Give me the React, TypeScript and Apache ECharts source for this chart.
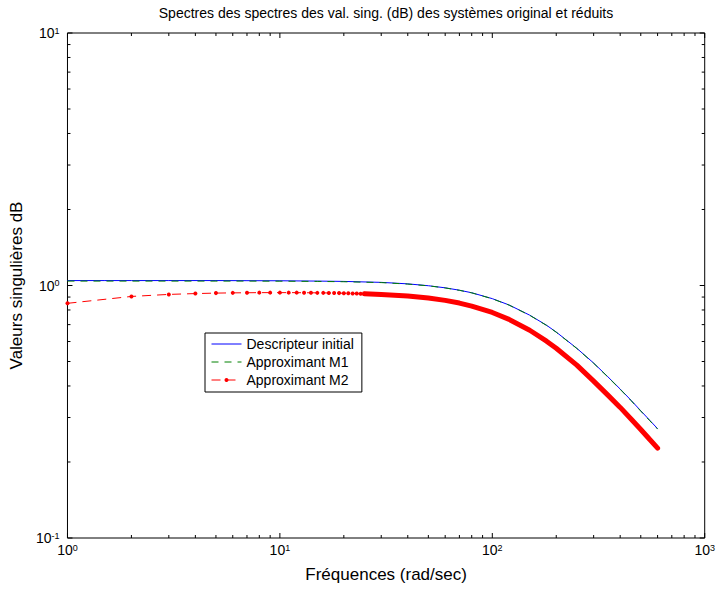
import React, { useEffect, useRef } from "react";
import * as echarts from "echarts";

// ---- Data ----
const TITLE = "Spectres des spectres des val. sing. (dB) des systèmes original et réduits";
const X_NAME = "Fréquences (rad/sec)";
const Y_NAME = "Valeurs singulières dB";
const SERIES_NAMES = ["Descripteur initial", "Approximant M1", "Approximant M2"];

const X_MIN = 1;
const X_MAX = 1000;
const Y_MIN = 0.1;
const Y_MAX = 10;

// Descripteur initial (blue, solid)
const blueFreq = [1, 1.5, 2, 3, 5, 7, 10, 15, 20, 30, 40, 50, 60, 70, 80, 100, 120, 150, 180, 200, 250, 300, 350, 400, 450, 500, 550, 600];
const blueVal = [1.046, 1.046, 1.046, 1.046, 1.046, 1.045, 1.044, 1.041, 1.038, 1.029, 1.015, 0.998, 0.979, 0.958, 0.936, 0.887, 0.837, 0.763, 0.696, 0.654, 0.564, 0.493, 0.435, 0.389, 0.351, 0.319, 0.293, 0.271];

// Approximant M1 (green, dashed)
const greenFreq = [1, 1.5, 2, 3, 5, 7, 10, 15, 20, 30, 40, 50, 60, 70, 80, 100, 120, 150, 180, 200, 250, 300, 350, 400, 450, 500, 550, 600];
const greenVal = [1.041, 1.041, 1.041, 1.041, 1.041, 1.041, 1.040, 1.038, 1.035, 1.027, 1.013, 0.997, 0.978, 0.957, 0.935, 0.886, 0.836, 0.762, 0.695, 0.653, 0.563, 0.492, 0.434, 0.388, 0.350, 0.318, 0.292, 0.270];

// Approximant M2 (red, dashed with dots) – low-frequency part, one dot per rad/sec
const redFreqLow = [1, 2, 3, 4, 5, 6, 7, 8, 9, 10, 11, 12, 13, 14, 15, 16, 17, 18, 19, 20, 21, 22, 23, 24, 25];
const redValLow = [0.850, 0.905, 0.922, 0.929, 0.933, 0.935, 0.936, 0.937, 0.937, 0.937, 0.937, 0.937, 0.936, 0.936, 0.935, 0.935, 0.934, 0.934, 0.933, 0.932, 0.931, 0.930, 0.929, 0.928, 0.927];
// Approximant M2 – high-frequency part where the dots merge into a thick line
const redFreqHigh = [25, 30, 40, 50, 60, 70, 80, 100, 120, 150, 180, 200, 250, 300, 350, 400, 450, 500, 550, 600];
const redValHigh = [0.927, 0.922, 0.908, 0.892, 0.873, 0.852, 0.829, 0.782, 0.734, 0.665, 0.602, 0.564, 0.484, 0.418, 0.368, 0.329, 0.296, 0.269, 0.246, 0.227];

// Axis tick scheme
const X_DECADES = [1, 10, 100, 1000];
const Y_DECADES = [0.1, 1, 10];
const MINOR_MULT = [2, 3, 4, 5, 6, 7, 8, 9];

const FONT = "Liberation Sans, Arial, Helvetica, sans-serif";

function zip(xs: number[], ys: number[]) {
  return xs.map((x, i) => [x, ys[i]]);
}

function buildTicks(decades: number[], maxV: number) {
  const out: number[][] = [];
  decades.forEach((d) => {
    out.push([d, 1]);
    if (d * 10 <= maxV) MINOR_MULT.forEach((m) => out.push([d * m, 0]));
  });
  return out;
}

const App: React.FC = () => {
  const ref = useRef<HTMLDivElement>(null);

  useEffect(() => {
    if (!ref.current) return;
    const chart = echarts.init(ref.current, undefined, { renderer: "svg" });

    const xTicks = buildTicks(X_DECADES, X_MAX).map(([v, major]) => [v, Y_MIN, major]);
    const yTicks = buildTicks(Y_DECADES, Y_MAX).map(([v, major]) => [X_MIN, v, major]);

    const labelFmt = (v: number) => `{b|10}{s|${Math.round(Math.log10(v))}}`;
    const rich = {
      b: { fontSize: 14, lineHeight: 14, fontFamily: FONT, color: "#000" },
      s: { fontSize: 9, lineHeight: 10, verticalAlign: "top", fontFamily: FONT, color: "#000" },
    };

    const MAJOR_LEN = 5;
    const MINOR_LEN = 3;

    const option: any = {
      animation: false,
      backgroundColor: "#fff",
      title: {
        text: TITLE,
        left: 386,
        textAlign: "center",
        top: 6,
        padding: 0,
        textStyle: { fontSize: 14, fontWeight: "normal", color: "#000", fontFamily: FONT },
      },
      grid: {
        left: 64,
        right: 11,
        top: 33,
        bottom: 51,
        show: true,
        borderColor: "#000",
        borderWidth: 1,
        backgroundColor: "transparent",
      },
      legend: {
        data: [
          { name: SERIES_NAMES[0], itemStyle: { opacity: 0 } },
          { name: SERIES_NAMES[1], itemStyle: { opacity: 0 } },
          { name: SERIES_NAMES[2] },
        ],
        orient: "vertical",
        left: 205,
        top: 333,
        backgroundColor: "#fff",
        borderColor: "#000",
        borderWidth: 1,
        borderRadius: 0,
        padding: [4, 8, 5, 6],
        itemGap: 4,
        itemWidth: 30,
        itemHeight: 5,
        lineStyle: { width: 1 },
        textStyle: { fontSize: 14, lineHeight: 14, color: "#000", fontFamily: FONT },
      },
      xAxis: {
        type: "log",
        logBase: 10,
        min: X_MIN,
        max: X_MAX,
        splitNumber: 3,
        name: X_NAME,
        nameLocation: "middle",
        nameGap: 28,
        nameTextStyle: { fontSize: 17, color: "#000", fontFamily: FONT },
        axisLine: { show: false },
        axisTick: { show: false },
        splitLine: { show: false },
        axisLabel: {
          formatter: labelFmt,
          rich,
          margin: 5,
          showMinLabel: true,
          showMaxLabel: true,
        },
      },
      yAxis: {
        type: "log",
        logBase: 10,
        min: Y_MIN,
        max: Y_MAX,
        splitNumber: 2,
        name: Y_NAME,
        nameLocation: "middle",
        nameGap: 34,
        nameRotate: 90,
        nameTextStyle: { fontSize: 17, color: "#000", fontFamily: FONT },
        axisLine: { show: false },
        axisTick: { show: false },
        splitLine: { show: false },
        axisLabel: {
          formatter: labelFmt,
          rich,
          margin: 8,
          showMinLabel: true,
          showMaxLabel: true,
        },
      },
      series: [
        {
          name: SERIES_NAMES[0],
          type: "line",
          data: zip(blueFreq, blueVal),
          symbol: "none",
          lineStyle: { color: "#0000ff", width: 1 },
          itemStyle: { color: "#0000ff" },
          z: 3,
        },
        {
          name: SERIES_NAMES[1],
          type: "line",
          data: zip(greenFreq, greenVal),
          symbol: "none",
          lineStyle: { color: "#008000", width: 1, type: [7, 6] },
          itemStyle: { color: "#008000" },
          z: 4,
        },
        {
          name: SERIES_NAMES[2],
          type: "line",
          data: zip(redFreqLow, redValLow),
          symbol: "circle",
          symbolSize: 4,
          showSymbol: true,
          showAllSymbol: true,
          lineStyle: { color: "#ff0000", width: 1, type: [9, 6] },
          itemStyle: { color: "#ff0000" },
          z: 5,
        },
        {
          name: SERIES_NAMES[2],
          type: "line",
          data: zip(redFreqHigh, redValHigh),
          symbol: "none",
          lineStyle: { color: "#ff0000", width: 5, cap: "round" },
          itemStyle: { color: "#ff0000" },
          z: 5,
        },
        {
          type: "custom",
          name: "xticks",
          silent: true,
          clip: false,
          data: xTicks,
          z: 10,
          renderItem: (params: any, api: any) => {
            const v = api.value(0);
            const len = api.value(2) ? MAJOR_LEN : MINOR_LEN;
            const b = api.coord([v, Y_MIN]);
            const t = api.coord([v, Y_MAX]);
            const style = { stroke: "#000", lineWidth: 1 };
            return {
              type: "group",
              children: [
                { type: "line", shape: { x1: b[0], y1: b[1], x2: b[0], y2: b[1] - len }, style },
                { type: "line", shape: { x1: t[0], y1: t[1], x2: t[0], y2: t[1] + len }, style },
              ],
            };
          },
        },
        {
          type: "custom",
          name: "yticks",
          silent: true,
          clip: false,
          data: yTicks,
          z: 10,
          renderItem: (params: any, api: any) => {
            const v = api.value(1);
            const len = api.value(2) ? MAJOR_LEN : MINOR_LEN;
            const l = api.coord([X_MIN, v]);
            const r = api.coord([X_MAX, v]);
            const style = { stroke: "#000", lineWidth: 1 };
            return {
              type: "group",
              children: [
                { type: "line", shape: { x1: l[0], y1: l[1], x2: l[0] + len, y2: l[1] }, style },
                { type: "line", shape: { x1: r[0], y1: r[1], x2: r[0] - len, y2: r[1] }, style },
              ],
            };
          },
        },
      ],
    };

    chart.setOption(option);
    return () => chart.dispose();
  }, []);

  return (
    <div
      ref={ref}
      style={{ position: "fixed", left: 0, top: 0, width: 718, height: 589, background: "#fff" }}
    />
  );
};

export default App;
